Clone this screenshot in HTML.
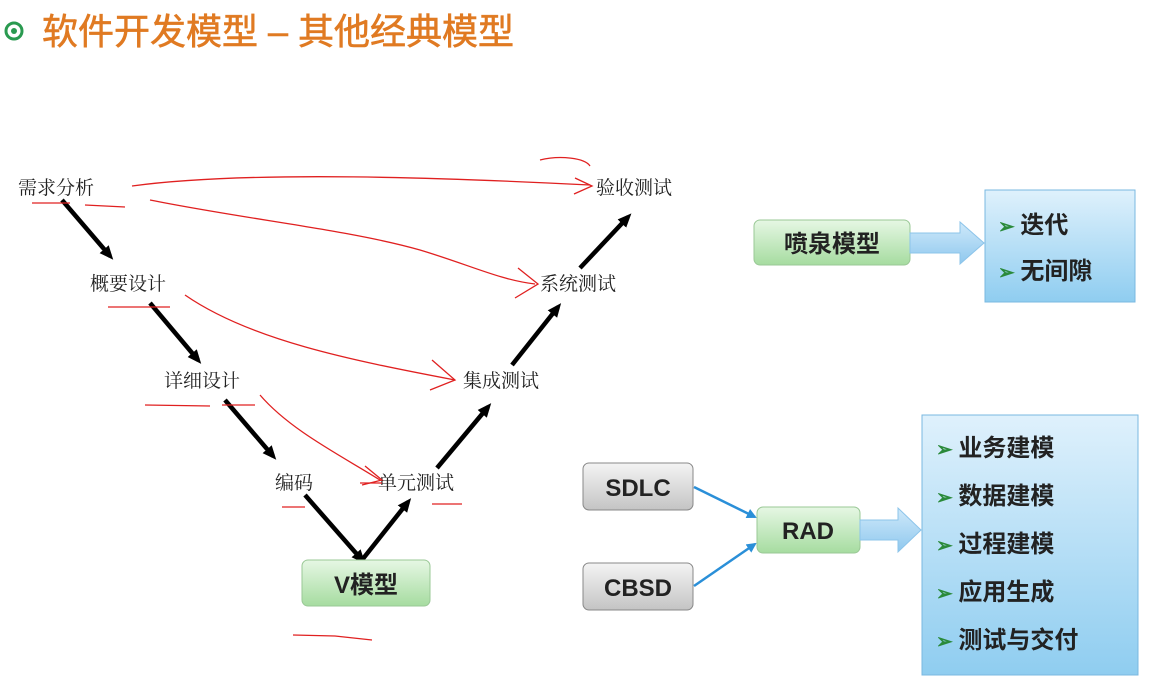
<!DOCTYPE html>
<html><head><meta charset="utf-8"><style>
html,body{margin:0;padding:0;background:#fff;width:1150px;height:686px;overflow:hidden}
svg{display:block}
.lb{font-family:"Liberation Serif","Noto Serif CJK SC",serif;font-size:19px;fill:#222}
.bx{font-family:"Liberation Sans","Noto Sans CJK SC",sans-serif;font-weight:bold;fill:#222}
</style></head><body>
<svg width="1150" height="686" viewBox="0 0 1150 686">
<defs>
<linearGradient id="g" x1="0" y1="0" x2="0" y2="1"><stop offset="0" stop-color="#e6f7e4"/><stop offset="1" stop-color="#a6dca0"/></linearGradient>
<linearGradient id="gr" x1="0" y1="0" x2="0" y2="1"><stop offset="0" stop-color="#f4f4f4"/><stop offset="1" stop-color="#c4c4c4"/></linearGradient>
<linearGradient id="bl" x1="0" y1="0" x2="0" y2="1"><stop offset="0" stop-color="#dff1fc"/><stop offset="1" stop-color="#8fcdf0"/></linearGradient>
<linearGradient id="ar" x1="0" y1="0" x2="0" y2="1"><stop offset="0" stop-color="#cfe9fa"/><stop offset="1" stop-color="#8fc8ee"/></linearGradient>
<marker id="bk" markerWidth="14" markerHeight="14" refX="9" refY="7" orient="auto" markerUnits="userSpaceOnUse"><path d="M0,1 L14,7 L0,13 z" fill="#000"/></marker>
<marker id="bu" markerWidth="10" markerHeight="10" refX="8" refY="5" orient="auto" markerUnits="userSpaceOnUse"><path d="M0,0 L10,5 L0,10 z" fill="#2a8fd8"/></marker>
</defs>
<circle cx="14" cy="31" r="8" fill="none" stroke="#2a9a50" stroke-width="3"/>
<circle cx="14" cy="31" r="3" fill="#2a9a50"/>
<text x="42" y="44" font-family="Liberation Sans,'Noto Sans CJK SC',sans-serif" font-size="36" fill="#e07a22" stroke="#e07a22" stroke-width="0.6">软件开发模型 – 其他经典模型</text>

<text class="lb" x="18" y="194">需求分析</text>
<text class="lb" x="596" y="194">验收测试</text>
<text class="lb" x="90" y="290">概要设计</text>
<text class="lb" x="540" y="290">系统测试</text>
<text class="lb" x="164" y="387">详细设计</text>
<text class="lb" x="463" y="387">集成测试</text>
<text class="lb" x="275" y="489">编码</text>
<text class="lb" x="378" y="489">单元测试</text>

<g stroke="#000" stroke-width="4.5" marker-end="url(#bk)" fill="none">
<line x1="62" y1="200" x2="110" y2="256"/>
<line x1="150" y1="303" x2="198" y2="360"/>
<line x1="225" y1="400" x2="273" y2="456"/>
<line x1="305" y1="495" x2="362" y2="560"/>
<line x1="362" y1="560" x2="408" y2="502"/>
<line x1="437" y1="468" x2="488" y2="407"/>
<line x1="512" y1="365" x2="558" y2="307"/>
<line x1="580" y1="268" x2="628" y2="217"/>
</g>

<g stroke="#e02020" stroke-width="1.3" fill="none">
<path d="M132,186 C250,170 450,178 590,185"/>
<path d="M575,178 L592,186 L574,194"/>
<path d="M540,160 C560,155 585,158 590,166"/>
<path d="M150,200 C250,220 350,230 420,250 C470,265 500,280 535,284"/>
<path d="M518,268 L538,284 L515,298"/>
<path d="M185,295 C250,340 350,360 455,380"/>
<path d="M432,360 L455,380 L430,390"/>
<path d="M260,395 C290,430 340,455 380,480"/>
<path d="M365,466 L382,480 L362,485"/>
<path d="M32,203 L70,203 M85,205 L125,207 M108,307 L170,307 M145,405 L210,406 M222,405 L255,405 M282,507 L305,507 M360,483 L382,483 M432,504 L462,504 M293,635 L335,636 L372,640"/>
</g>

<rect x="302" y="560" width="128" height="46" rx="6" fill="url(#g)" stroke="#9ac896"/>
<text class="bx" x="366" y="593" font-size="24" text-anchor="middle">V模型</text>

<rect x="754" y="220" width="156" height="45" rx="6" fill="url(#g)" stroke="#9ac896"/>
<text class="bx" x="832" y="252" font-size="24" text-anchor="middle">喷泉模型</text>
<path d="M910,233 L960,233 L960,222 L984,243 L960,264 L960,253 L910,253 z" fill="url(#ar)" stroke="#8cc4ea"/>
<rect x="985" y="190" width="150" height="112" fill="url(#bl)" stroke="#7ab8e0"/>
<text class="bx" x="998" y="233" font-size="24"><tspan fill="#2a8a3a" font-size="20">➢ </tspan>迭代</text>
<text class="bx" x="998" y="279" font-size="24"><tspan fill="#2a8a3a" font-size="20">➢ </tspan>无间隙</text>

<rect x="583" y="463" width="110" height="47" rx="6" fill="url(#gr)" stroke="#888"/>
<text class="bx" x="638" y="496" font-size="24" text-anchor="middle">SDLC</text>
<rect x="583" y="563" width="110" height="47" rx="6" fill="url(#gr)" stroke="#888"/>
<text class="bx" x="638" y="596" font-size="24" text-anchor="middle">CBSD</text>
<rect x="757" y="507" width="103" height="46" rx="6" fill="url(#g)" stroke="#9ac896"/>
<text class="bx" x="808" y="539" font-size="24" text-anchor="middle">RAD</text>
<g stroke="#2a8fd8" stroke-width="2.5" marker-end="url(#bu)">
<line x1="694" y1="487" x2="755" y2="517"/>
<line x1="694" y1="586" x2="755" y2="544"/>
</g>
<path d="M860,520 L898,520 L898,508 L921,530 L898,552 L898,540 L860,540 z" fill="url(#ar)" stroke="#8cc4ea"/>
<rect x="922" y="415" width="216" height="260" fill="url(#bl)" stroke="#7ab8e0"/>
<g class="bx" font-size="24">
<text x="936" y="456"><tspan fill="#2a8a3a" font-size="20">➢ </tspan>业务建模</text>
<text x="936" y="504"><tspan fill="#2a8a3a" font-size="20">➢ </tspan>数据建模</text>
<text x="936" y="552"><tspan fill="#2a8a3a" font-size="20">➢ </tspan>过程建模</text>
<text x="936" y="600"><tspan fill="#2a8a3a" font-size="20">➢ </tspan>应用生成</text>
<text x="936" y="648"><tspan fill="#2a8a3a" font-size="20">➢ </tspan>测试与交付</text>
</g>
</svg>
</body></html>
